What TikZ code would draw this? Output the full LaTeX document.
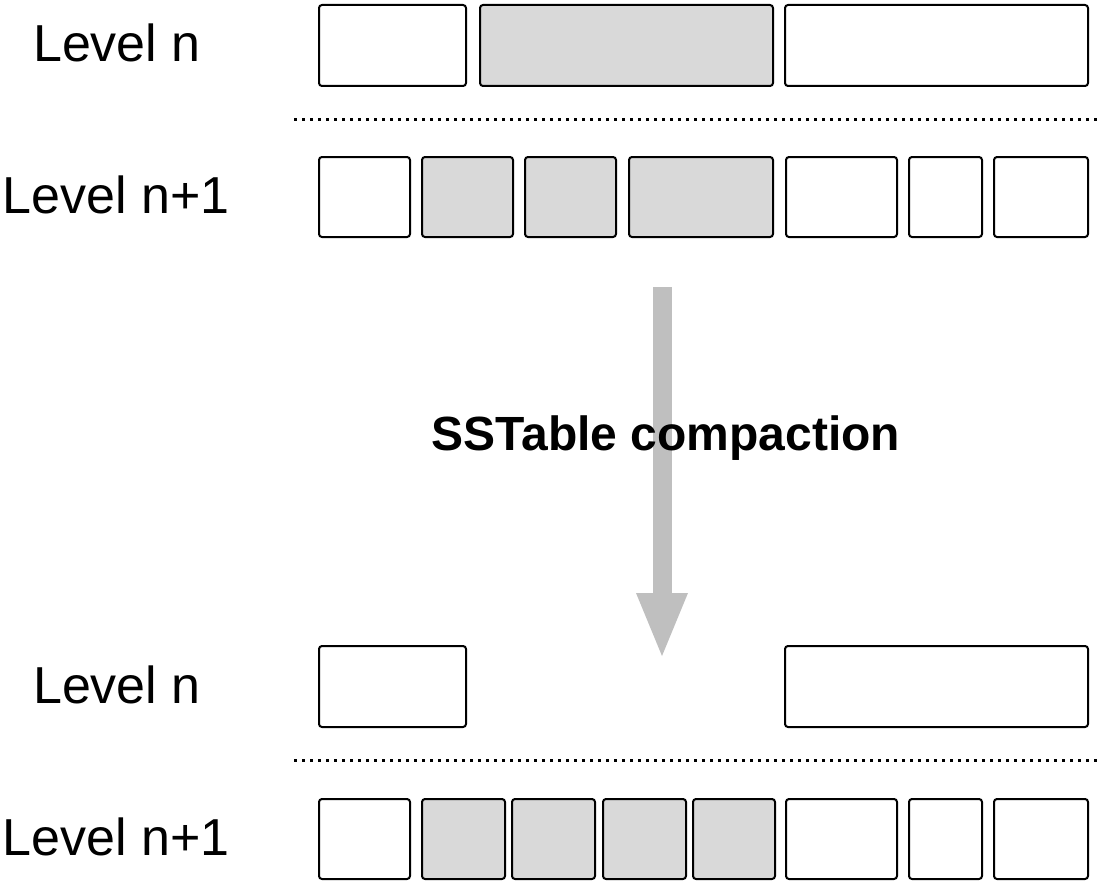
\documentclass[tikz,border=0pt]{standalone}
\usepackage{fontspec}
\setmainfont{Liberation Sans}
\definecolor{sstgray}{HTML}{D9D9D9}
\definecolor{flowgray}{HTML}{BFBFBF}
\tikzset{
  sst/.style={draw=black, line width=2pt, rounded corners=3pt, fill=white,
              inner sep=0pt, minimum height=#1},
  sst/.default=80pt,
  merged/.style={fill=sstgray},
  levellabel/.style={anchor=base, inner sep=0pt, font=\fontsize{52}{60}\selectfont},
  steplabel/.style={anchor=base, inner sep=0pt, font=\fontsize{48}{56}\selectfont\bfseries},
  divider/.style={line width=3pt, dash pattern=on 3pt off 5pt},
}
\begin{document}
\begin{tikzpicture}[x=1pt, y=-1pt]
  \useasboundingbox (0,0) rectangle (1109,883);

  % flow arrow (drawn first so the caption sits on top)
  \fill[flowgray] (653,287) rectangle (672,594);
  \fill[flowgray] (636,593) -- (688,593) -- (662,656) -- cycle;

  % before compaction: level n
  \node[sst=81pt, minimum width=147pt] (a1) at (392.5,45.5) {};
  \node[sst=81pt, merged, minimum width=293pt] (a2) at (626.5,45.5) {};
  \node[sst=81pt, minimum width=303pt] (a3) at (936.5,45.5) {};

  \coordinate (s1l) at (294,119);
  \coordinate (s1r) at (1100,119);
  \draw[divider] (s1l) -- (s1r);

  % before compaction: level n+1
  \node[sst, minimum width=91pt] (b1) at (364.5,197) {};
  \node[sst, merged, minimum width=91pt] (b2) at (467.5,197) {};
  \node[sst, merged, minimum width=91pt] (b3) at (570.5,197) {};
  \node[sst, merged, minimum width=144pt] (b4) at (701,197) {};
  \node[sst, minimum width=111pt] (b5) at (841.5,197) {};
  \node[sst, minimum width=73pt] (b6) at (945.5,197) {};
  \node[sst, minimum width=94pt] (b7) at (1041,197) {};

  % after compaction: level n
  \node[sst=81pt, minimum width=147pt] (c1) at (392.5,686.5) {};
  \node[sst=81pt, minimum width=303pt] (c2) at (936.5,686.5) {};

  \coordinate (s2l) at (294,760);
  \coordinate (s2r) at (1100,760);
  \draw[divider] (s2l) -- (s2r);

  % after compaction: level n+1
  \node[sst, minimum width=91pt] (d1) at (364.5,839) {};
  \node[sst, merged, minimum width=83pt] (d2) at (463.5,839) {};
  \node[sst, merged, minimum width=83pt] (d3) at (553.5,839) {};
  \node[sst, merged, minimum width=83pt] (d4) at (644.5,839) {};
  \node[sst, merged, minimum width=82pt] (d5) at (734,839) {};
  \node[sst, minimum width=111pt] (d6) at (841.5,839) {};
  \node[sst, minimum width=73pt] (d7) at (945.5,839) {};
  \node[sst, minimum width=94pt] (d8) at (1041,839) {};

  % level labels
  \node[levellabel] (l1) at (117,62) {Level n};
  \node[levellabel] (l2) at (116,213) {Level n+1};
  \node[levellabel] (l3) at (117,703) {Level n};
  \node[levellabel] (l4) at (116,855) {Level n+1};

  \node[steplabel] (cap) at (666,450) {SSTable compaction};
\end{tikzpicture}
\end{document}
